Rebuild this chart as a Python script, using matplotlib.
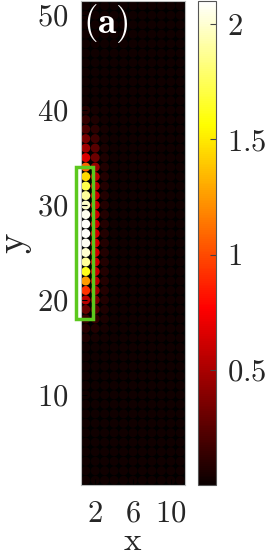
import numpy as np
import matplotlib
matplotlib.use("Agg")
import matplotlib.pyplot as plt
from matplotlib.patches import Rectangle

plt.rcParams['mathtext.fontset'] = 'cm'
plt.rcParams['font.family'] = 'serif'
plt.rcParams['font.serif'] = ['cmr10', 'DejaVu Serif']
plt.rcParams['axes.formatter.use_mathtext'] = True

# grid of sites
x_sites = np.arange(1, 12)
y_sites = np.arange(1, 52)
bg_level = 0.02

# rows 16..40 carry the excitation, columns 1-3
peak_rows = list(range(16, 41))
col1_peak = [0.06, 0.09, 0.15, 0.28, 0.55, 0.92, 1.25, 1.62, 1.88, 2.0,
             2.07, 2.09, 2.09, 2.06, 1.98, 1.88, 1.72, 1.45, 1.08, 0.65,
             0.46, 0.34, 0.2, 0.13, 0.08]
col2_peak = [0.04, 0.07, 0.13, 0.23, 0.36, 0.48, 0.56, 0.6, 0.62, 0.63,
             0.63, 0.63, 0.63, 0.62, 0.61, 0.6, 0.58, 0.55, 0.45, 0.31,
             0.24, 0.16, 0.1, 0.06, 0.04]
col3_peak = [0.03, 0.04, 0.05, 0.06, 0.07, 0.08, 0.08, 0.08, 0.08, 0.08,
             0.08, 0.08, 0.08, 0.08, 0.08, 0.08, 0.08, 0.08, 0.07, 0.06,
             0.05, 0.04, 0.04, 0.03, 0.03]

# highlighted region
rect_x = (0.0, 1.8)
rect_y = (18.0, 34.0)

cmax = 2.1

Z = np.full((len(y_sites), len(x_sites)), bg_level)
for col, prof in zip([1, 2, 3], [col1_peak, col2_peak, col3_peak]):
    for r, v in zip(peak_rows, prof):
        Z[r - 1, col - 1] = v

X, Y = np.meshgrid(x_sites, y_sites)

fig = plt.figure(figsize=(2.69, 5.57), dpi=100)
ax = fig.add_axes([81 / 269, 72 / 557, 104 / 269, 484 / 557])
ax.set_facecolor('black')

order = np.argsort(Z.ravel())
sc = ax.scatter(X.ravel()[order], Y.ravel()[order], c=Z.ravel()[order],
                cmap='hot', vmin=0, vmax=cmax, s=42, linewidths=0)

ax.add_patch(Rectangle((rect_x[0], rect_y[0]), rect_x[1] - rect_x[0],
                       rect_y[1] - rect_y[0], fill=False,
                       edgecolor='#5cc81e', lw=2.5, clip_on=False, zorder=5))

ax.set_xlim(0.5, 11.5)
ax.set_ylim(0.5, 51.5)
ax.set_xticks([2, 6, 10])
ax.set_yticks([10, 20, 30, 40, 50])
ax.set_xticklabels([f'${v}$' for v in [2, 6, 10]])
ax.set_yticklabels([f'${v}$' for v in [10, 20, 30, 40, 50]])
ax.tick_params(direction='in', length=4, color='black', labelsize=22,
               labelcolor='#262626')
ax.tick_params(axis='x', pad=11)
ax.tick_params(axis='y', pad=9)
for sp in ax.spines.values():
    sp.set_color('#bbbbbb')
    sp.set_linewidth(0.8)

ax.set_xlabel('$\\mathrm{x}$', fontsize=24, color='#262626')
ax.xaxis.set_label_coords(0.5, -0.086)
ax.set_ylabel('$\\mathrm{y}$', fontsize=28, color='#262626', labelpad=2)

ax.text(0.015, 0.997, '$\\mathbf{(a)}$', color='white', fontsize=27,
        transform=ax.transAxes, ha='left', va='top')

cax = fig.add_axes([198 / 269, 72 / 557, 18 / 269, 484 / 557])
cb = fig.colorbar(sc, cax=cax)
cb.set_ticks([0.5, 1, 1.5, 2])
cb.set_ticklabels(['$0.5$', '$1$', '$1.5$', '$2$'])
cax.tick_params(direction='in', length=4, color='#444444', labelsize=22,
                labelcolor='#262626', pad=8)
cb.outline.set_edgecolor('#555555')
cb.outline.set_linewidth(0.8)

fig.savefig('out.png', dpi=100)
